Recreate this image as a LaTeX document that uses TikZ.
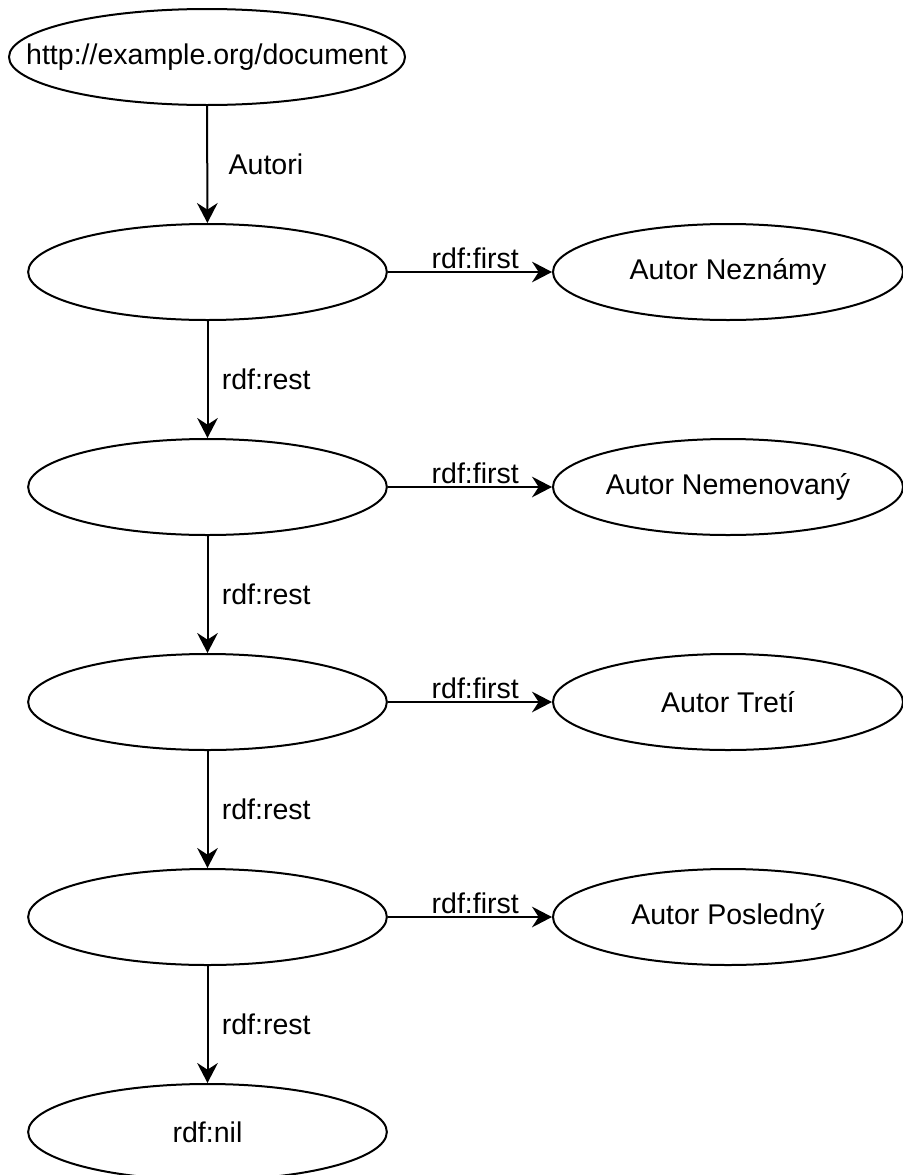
\documentclass[tikz,border=0pt]{standalone}
\usepackage{fontspec}
\setmainfont{Liberation Sans}
\usetikzlibrary{shapes.geometric,arrows.meta}
\begin{document}
\begin{tikzpicture}[x=0.75pt,y=-0.75pt,
  font=\fontsize{21.4pt}{25pt}\selectfont,
  res/.style={draw,ellipse,line width=1.5pt,inner sep=0pt,minimum height=72pt},
  blank/.style={res,minimum width=269pt},
  lit/.style={res,minimum width=262.5pt},
  link/.style={-{Stealth[length=15pt,width=15.5pt,inset=5pt]},line width=1.5pt},
  downlbl/.style={midway,xshift=44pt},
  firstlbl/.style={midway,anchor=base,xshift=4pt,yshift=3pt,inner sep=0pt}]
\useasboundingbox (0,0) rectangle (903,1175);
% subject
\node[res,minimum width=297pt] (doc) at (207,57) {\makebox[0pt]{http://example.org/document}};
% list cells
\node[blank] (list1) at (207.5,272) {};
\node[blank] (list2) at (207.5,487) {};
\node[blank] (list3) at (207.5,702) {};
\node[blank] (list4) at (207.5,917) {};
\node[blank] (nil) at (207.5,1132) {rdf:nil};
% members
\node[lit] (auth1) at (728,272) {Autor Neznámy};
\node[lit] (auth2) at (728,487) {Autor Nemenovaný};
\node[lit] (auth3) at (728,702) {Autor Tretí};
\node[lit] (auth4) at (728,917) {Autor Posledný};
% rest
\draw[link] (doc) -- (list1) node[downlbl] {Autori};
\draw[link] (list1) -- (list2) node[downlbl] {rdf:rest};
\draw[link] (list2) -- (list3) node[downlbl] {rdf:rest};
\draw[link] (list3) -- (list4) node[downlbl] {rdf:rest};
\draw[link] (list4) -- (nil) node[downlbl] {rdf:rest};
% first
\draw[link] (list1) -- (auth1) node[firstlbl] {rdf:first};
\draw[link] (list2) -- (auth2) node[firstlbl] {rdf:first};
\draw[link] (list3) -- (auth3) node[firstlbl] {rdf:first};
\draw[link] (list4) -- (auth4) node[firstlbl] {rdf:first};
\end{tikzpicture}
\end{document}
